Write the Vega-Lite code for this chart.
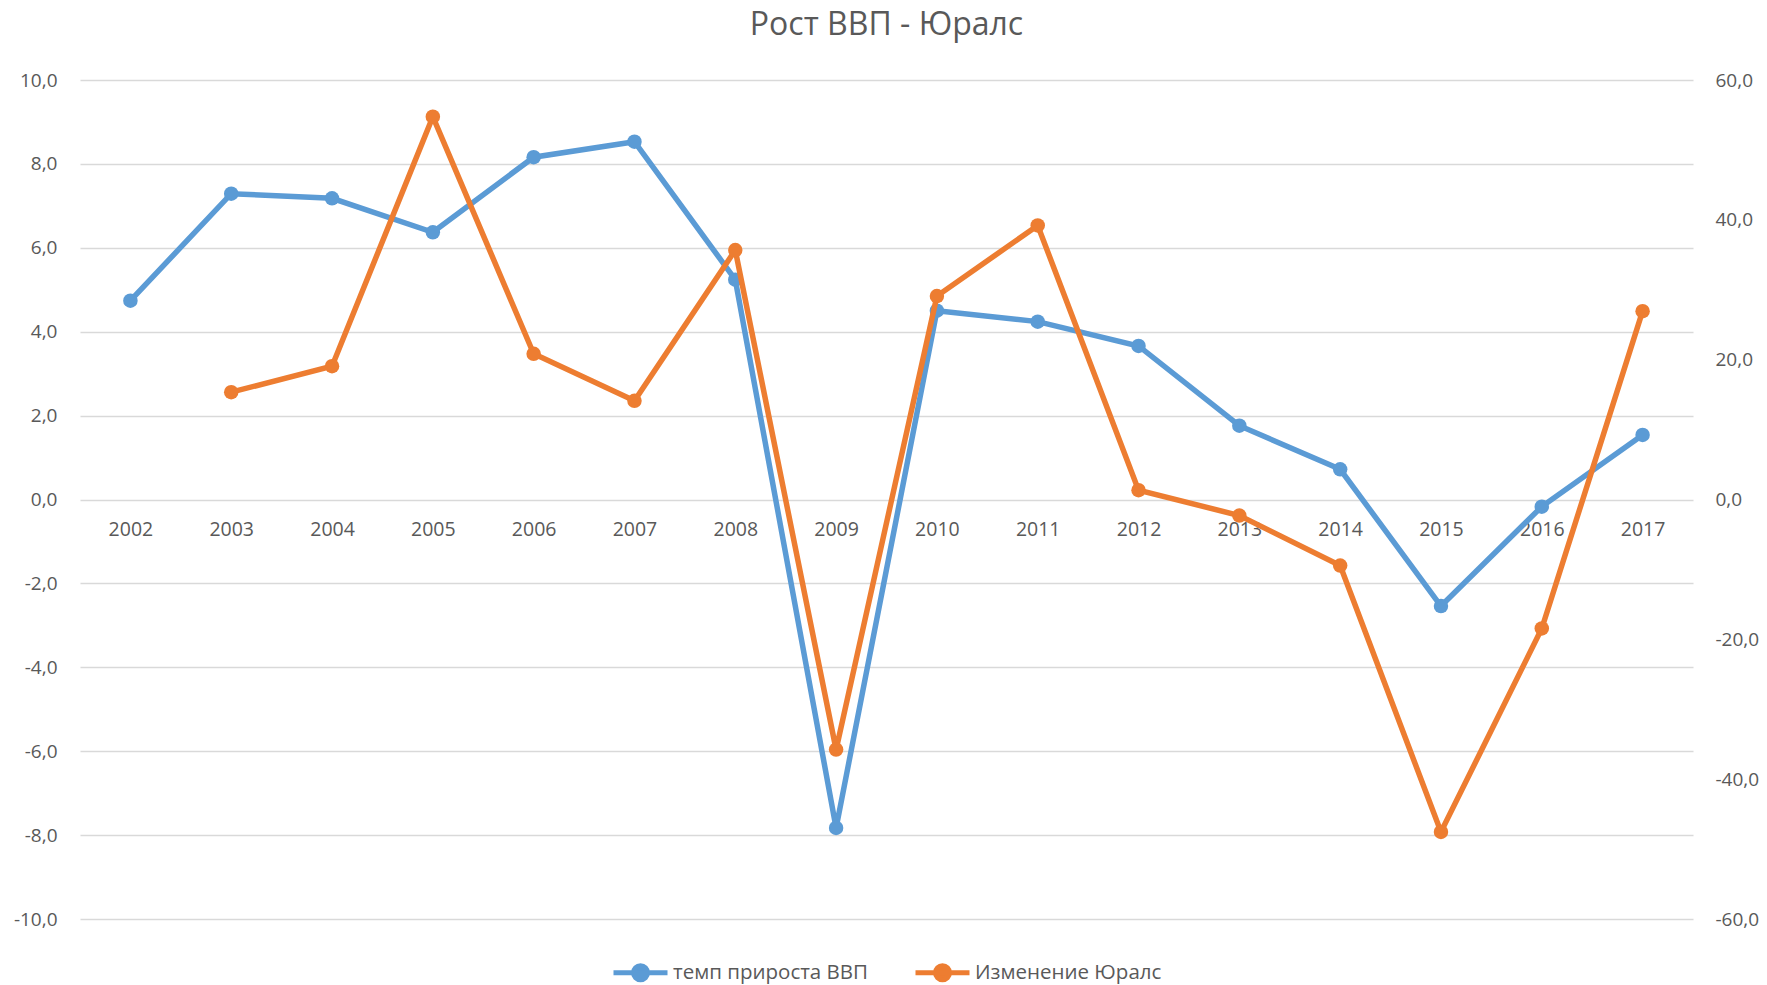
{
  "$schema": "https://vega.github.io/schema/vega-lite/v6.json",
  "width": 1613,
  "height": 839,
  "autosize": "none",
  "padding": {"left": 80, "top": 80, "right": 74, "bottom": 66},
  "background": "white",
  "title": {
    "text": "Рост ВВП - Юралс",
    "font": "Open Sans",
    "fontSize": 32,
    "fontWeight": "normal",
    "color": "#595959",
    "anchor": "middle",
    "baseline": "middle",
    "offset": 14
  },
  "data": {
    "values": [
      {"year": 2002, "series": "темп прироста ВВП", "value": 4.74},
      {"year": 2003, "series": "темп прироста ВВП", "value": 7.29},
      {"year": 2004, "series": "темп прироста ВВП", "value": 7.18},
      {"year": 2005, "series": "темп прироста ВВП", "value": 6.37},
      {"year": 2006, "series": "темп прироста ВВП", "value": 8.16},
      {"year": 2007, "series": "темп прироста ВВП", "value": 8.53},
      {"year": 2008, "series": "темп прироста ВВП", "value": 5.24},
      {"year": 2009, "series": "темп прироста ВВП", "value": -7.83},
      {"year": 2010, "series": "темп прироста ВВП", "value": 4.5},
      {"year": 2011, "series": "темп прироста ВВП", "value": 4.24},
      {"year": 2012, "series": "темп прироста ВВП", "value": 3.66},
      {"year": 2013, "series": "темп прироста ВВП", "value": 1.76},
      {"year": 2014, "series": "темп прироста ВВП", "value": 0.72},
      {"year": 2015, "series": "темп прироста ВВП", "value": -2.54},
      {"year": 2016, "series": "темп прироста ВВП", "value": -0.17},
      {"year": 2017, "series": "темп прироста ВВП", "value": 1.54},
      {"year": 2003, "series": "Изменение Юралс", "value": 15.35},
      {"year": 2004, "series": "Изменение Юралс", "value": 19.07},
      {"year": 2005, "series": "Изменение Юралс", "value": 54.75},
      {"year": 2006, "series": "Изменение Юралс", "value": 20.84},
      {"year": 2007, "series": "Изменение Юралс", "value": 14.12},
      {"year": 2008, "series": "Изменение Юралс", "value": 35.67},
      {"year": 2009, "series": "Изменение Юралс", "value": -35.77},
      {"year": 2010, "series": "Изменение Юралс", "value": 29.09},
      {"year": 2011, "series": "Изменение Юралс", "value": 39.2},
      {"year": 2012, "series": "Изменение Юралс", "value": 1.33},
      {"year": 2013, "series": "Изменение Юралс", "value": -2.29},
      {"year": 2014, "series": "Изменение Юралс", "value": -9.44},
      {"year": 2015, "series": "Изменение Юралс", "value": -47.55},
      {"year": 2016, "series": "Изменение Юралс", "value": -18.45},
      {"year": 2017, "series": "Изменение Юралс", "value": 26.94}
    ]
  },
  "encoding": {
    "x": {
      "field": "year",
      "type": "ordinal",
      "scale": {"type": "point", "padding": 0.5},
      "axis": {
        "orient": "bottom",
        "offset": -419.5,
        "title": null,
        "domain": false,
        "ticks": false,
        "grid": false,
        "labelAngle": 0,
        "labelPadding": 21,
        "labelFont": "Open Sans",
        "labelFontSize": 19.5,
        "labelColor": "#595959"
      }
    },
    "color": {
      "field": "series",
      "type": "nominal",
      "scale": {
        "domain": ["темп прироста ВВП", "Изменение Юралс"],
        "range": ["#5B9BD5", "#ED7D31"]
      },
      "legend": {
        "orient": "bottom",
        "direction": "horizontal",
        "title": null,
        "offset": 24,
        "symbolType": "M-1,0L1,0M-0.26,0A0.26,0.26,0,1,1,0.26,0A0.26,0.26,0,1,1,-0.26,0Z",
        "symbolSize": 2916,
        "symbolStrokeWidth": 5,
        "labelFont": "Open Sans",
        "labelFontSize": 20.5,
        "labelColor": "#595959",
        "labelOffset": 3,
        "labelLimit": 400,
        "columnPadding": 37,
        "encode": {
          "symbols": {
            "update": {
              "fill": {"scale": "color", "field": "value"},
              "stroke": {"scale": "color", "field": "value"}
            }
          }
        }
      }
    }
  },
  "layer": [
    {
      "transform": [{"filter": "datum.series === 'темп прироста ВВП'"}],
      "mark": {"type": "line", "strokeWidth": 5.5, "point": {"filled": true, "size": 210}},
      "encoding": {
        "y": {
          "field": "value",
          "type": "quantitative",
          "scale": {"domain": [-10, 10], "nice": false, "zero": false},
          "axis": {
            "orient": "left",
            "title": null,
            "values": [-10, -8, -6, -4, -2, 0, 2, 4, 6, 8, 10],
            "format": ".1f",
            "domain": false,
            "ticks": false,
            "grid": true,
            "gridColor": "#D9D9D9",
            "gridWidth": 1.6,
            "labelPadding": 23,
            "labelFont": "Open Sans",
            "labelFontSize": 19,
            "labelColor": "#595959"
          }
        }
      }
    },
    {
      "transform": [{"filter": "datum.series === 'Изменение Юралс'"}],
      "mark": {"type": "line", "strokeWidth": 5.5, "point": {"filled": true, "size": 210}},
      "encoding": {
        "y": {
          "field": "value",
          "type": "quantitative",
          "scale": {"domain": [-60, 60], "nice": false, "zero": false},
          "axis": {
            "orient": "right",
            "title": null,
            "values": [-60, -40, -20, 0, 20, 40, 60],
            "format": ".1f",
            "domain": false,
            "ticks": false,
            "grid": false,
            "labelPadding": 22,
            "labelFont": "Open Sans",
            "labelFontSize": 19,
            "labelColor": "#595959"
          }
        }
      }
    }
  ],
  "resolve": {"scale": {"y": "independent"}},
  "config": {
    "view": {"stroke": null},
    "locale": {
      "number": {
        "decimal": ",",
        "thousands": " ",
        "grouping": [3],
        "currency": ["", ""],
        "minus": "-"
      }
    },
    "legend": {
      "layout": {"bottom": {"anchor": "middle"}}
    }
  }
}
